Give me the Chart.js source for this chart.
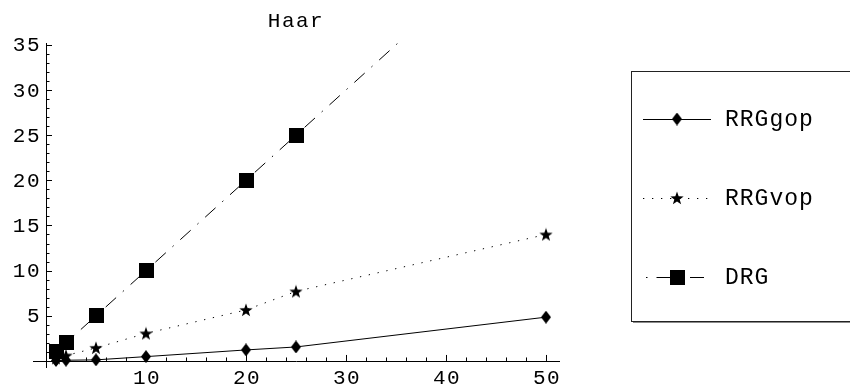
<!DOCTYPE html>
<html>
<head>
<meta charset="utf-8">
<script src="https://cdn.jsdelivr.net/npm/chart.js@4/dist/chart.umd.min.js"></script>
<style>
  html, body { margin: 0; padding: 0; background: #fff; }
  canvas { display: block; }
</style>
</head>
<body>
<canvas id="haar" width="850" height="389"></canvas>
<script>
// data
const sizes = [1, 2, 5, 10, 20, 25, 50];
const rrgGop = [0.05, 0.08, 0.12, 0.48, 1.22, 1.55, 4.85];
const rrgVop = [0.3, 0.6, 1.45, 3.05, 5.65, 7.7, 14.0];
const drg = [1, 2, 5, 10, 20, 25, 50];
const seriesNames = ["RRGgop", "RRGvop", "DRG"];
const xTicks = [10, 20, 30, 40, 50];
const yTicks = [5, 10, 15, 20, 25, 30, 35];

const FONT = "Liberation Mono, DejaVu Sans Mono, monospace";
const dotted = [1.3, 7.7];
const dashDot = [14, 9, 1.5, 9];

// marker images
function marker(kind) {
    const c = document.createElement("canvas");
    const g = c.getContext("2d");
    g.fillStyle = "#000";
    if (kind === "diamond") {
        c.width = 10; c.height = 13;
        g.beginPath();
        g.moveTo(5, 0); g.lineTo(10, 6.5); g.lineTo(5, 13); g.lineTo(0, 6.5);
        g.closePath(); g.fill();
    } else if (kind === "star") {
        c.width = 14; c.height = 14;
        g.beginPath();
        for (let i = 0; i < 10; i++) {
            const r = i % 2 === 0 ? 7 : 2.8;
            const a = -Math.PI / 2 + i * Math.PI / 5;
            const px = 7 + r * Math.cos(a), py = 7.6 + r * Math.sin(a);
            i === 0 ? g.moveTo(px, py) : g.lineTo(px, py);
        }
        g.closePath(); g.fill();
    } else {
        c.width = 15; c.height = 15;
        g.fillRect(0, 0, 15, 15);
    }
    return c;
}
const markers = [marker("diamond"), marker("star"), marker("square")];
const dashes = [[], dotted, dashDot];

const toPoints = ys => sizes.map((x, i) => ({ x: x, y: ys[i] }));

// axes, ticks, title and legend in Mathematica style
const decorations = {
    id: "decorations",
    beforeDatasetsDraw(chart) {
        const ctx = chart.ctx;
        const xs = chart.scales.x, ys = chart.scales.y;
        const area = chart.chartArea;
        const x0 = xs.getPixelForValue(0);
        const y0 = ys.getPixelForValue(0);
        ctx.save();
        ctx.strokeStyle = "#000";
        ctx.lineWidth = 1;
        ctx.beginPath();
        ctx.moveTo(area.left, Math.round(y0) + 0.5);
        ctx.lineTo(area.right, Math.round(y0) + 0.5);
        ctx.moveTo(Math.round(x0) + 0.5, area.bottom);
        ctx.lineTo(Math.round(x0) + 0.5, area.top);
        // x ticks, minor every 2
        for (let v = 2; v <= 50; v += 2) {
            const px = Math.round(xs.getPixelForValue(v)) + 0.5;
            const len = v % 10 === 0 ? 6 : 3.5;
            ctx.moveTo(px, y0);
            ctx.lineTo(px, y0 - len);
        }
        // y ticks, minor every 1
        for (let v = 1; v <= 35; v++) {
            const py = Math.round(ys.getPixelForValue(v)) + 0.5;
            const len = v % 5 === 0 ? 6 : 3.5;
            ctx.moveTo(x0, py);
            ctx.lineTo(x0 + len, py);
        }
        ctx.stroke();

        ctx.fillStyle = "#000";
        ctx.font = "21px " + FONT;
        ctx.letterSpacing = "1.5px";
        ctx.textAlign = "center";
        ctx.textBaseline = "alphabetic";
        xTicks.forEach(v => ctx.fillText(String(v), xs.getPixelForValue(v) + 1, y0 + 23));
        ctx.textAlign = "right";
        ctx.textBaseline = "middle";
        yTicks.forEach(v => ctx.fillText(String(v), x0 - 5, ys.getPixelForValue(v) + 1));
        ctx.restore();
    },
    afterDraw(chart) {
        const ctx = chart.ctx;
        ctx.save();
        ctx.fillStyle = "#000";
        ctx.font = "21px " + FONT;
        ctx.letterSpacing = "1.5px";
        ctx.textAlign = "center";
        ctx.textBaseline = "alphabetic";
        ctx.fillText("Haar", 296, 27);

        // legend box with drop shadow
        const bx = 631, by = 71, bw = 230, bh = 250;
        ctx.fillStyle = "#8a8a8a";
        ctx.fillRect(bx + 2, by + 2, bw, bh);
        ctx.fillStyle = "#fff";
        ctx.fillRect(bx, by, bw, bh);
        ctx.strokeStyle = "#222";
        ctx.lineWidth = 1;
        ctx.strokeRect(bx + 0.5, by + 0.5, bw, bh);

        const rows = [119, 198, 277];
        ctx.font = "23px " + FONT;
        ctx.letterSpacing = "1px";
        ctx.textAlign = "left";
        ctx.textBaseline = "middle";
        rows.forEach((ry, i) => {
            ctx.save();
            ctx.strokeStyle = "#000";
            ctx.setLineDash(dashes[i]);
            ctx.lineDashOffset = i === 2 ? 20 : 0;
            ctx.beginPath();
            ctx.moveTo(643, ry + 0.5);
            ctx.lineTo(711, ry + 0.5);
            ctx.stroke();
            ctx.restore();
            const m = markers[i];
            ctx.drawImage(m, 677 - m.width / 2, ry - m.height / 2);
            ctx.fillStyle = "#000";
            ctx.fillText(seriesNames[i], 725, ry + 1);
        });
        ctx.restore();
    }
};

new Chart(document.getElementById("haar"), {
    type: "scatter",
    data: {
        datasets: [rrgGop, rrgVop, drg].map((ys, i) => ({
            label: seriesNames[i],
            data: toPoints(ys),
            showLine: true,
            borderColor: "#000",
            borderWidth: 1,
            borderDash: dashes[i],
            pointStyle: markers[i],
            pointRadius: 6,
            clip: i === 2 ? { left: 10, top: 0, right: 0, bottom: 10 } : false
        }))
    },
    options: {
        responsive: false,
        animation: false,
        devicePixelRatio: 1,
        layout: { padding: { left: 33, right: 290, top: 43, bottom: 21 } },
        scales: {
            x: { type: "linear", min: -1.3, max: 51.4, display: false },
            y: { type: "linear", min: -0.78, max: 35.2, display: false }
        },
        plugins: {
            legend: { display: false },
            tooltip: { enabled: false }
        }
    },
    plugins: [decorations]
});
</script>
</body>
</html>
